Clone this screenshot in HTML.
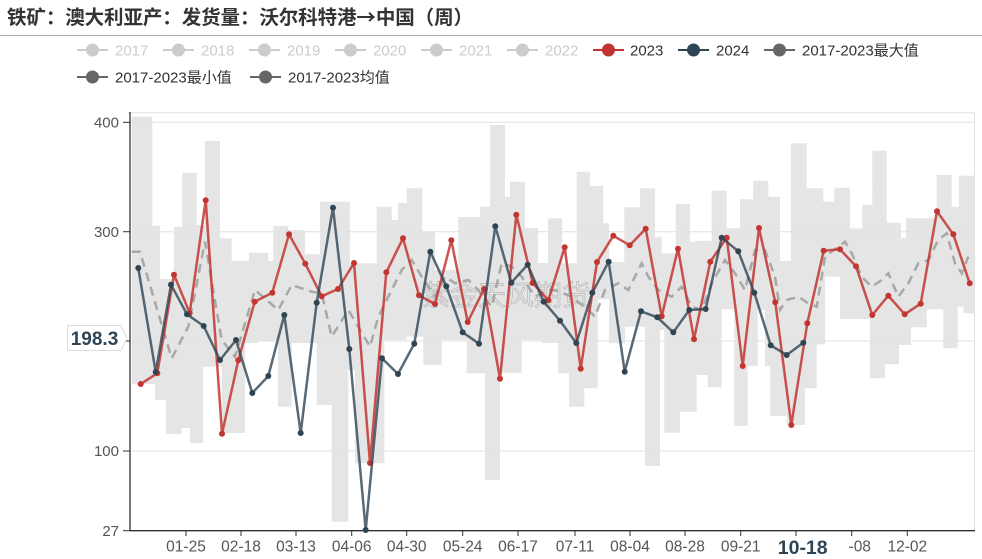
<!DOCTYPE html>
<html><head><meta charset="utf-8"><style>
html,body{margin:0;padding:0;background:#fff;}
svg{display:block;font-family:"Liberation Sans","Noto Sans CJK SC",sans-serif;}
</style></head><body>
<svg width="982" height="559" viewBox="0 0 982 559" xmlns="http://www.w3.org/2000/svg">
<rect width="982" height="559" fill="#fff"/>
<text x="7" y="24" font-size="19.5" font-weight="bold" fill="#333" textLength="466" lengthAdjust="spacing">铁矿：澳大利亚产：发货量：沃尔科特港<tspan font-family="Noto Sans CJK SC, sans-serif">→</tspan>中国（周）</text>
<line x1="0" y1="35.5" x2="982" y2="35.5" stroke="#aaa" stroke-width="1"/>

<!-- legend -->
<g font-size="15" stroke-width="2">
<line x1="77" y1="50" x2="108" y2="50" stroke="#ccc"/><circle cx="92.5" cy="50" r="6.5" fill="#ccc"/><text x="115" y="55.5" fill="#ccc" stroke="none">2017</text>
<line x1="163" y1="50" x2="194" y2="50" stroke="#ccc"/><circle cx="178.5" cy="50" r="6.5" fill="#ccc"/><text x="201" y="55.5" fill="#ccc" stroke="none">2018</text>
<line x1="249" y1="50" x2="280" y2="50" stroke="#ccc"/><circle cx="264.5" cy="50" r="6.5" fill="#ccc"/><text x="287" y="55.5" fill="#ccc" stroke="none">2019</text>
<line x1="335" y1="50" x2="366" y2="50" stroke="#ccc"/><circle cx="350.5" cy="50" r="6.5" fill="#ccc"/><text x="373" y="55.5" fill="#ccc" stroke="none">2020</text>
<line x1="421" y1="50" x2="452" y2="50" stroke="#ccc"/><circle cx="436.5" cy="50" r="6.5" fill="#ccc"/><text x="459" y="55.5" fill="#ccc" stroke="none">2021</text>
<line x1="507" y1="50" x2="538" y2="50" stroke="#ccc"/><circle cx="522.5" cy="50" r="6.5" fill="#ccc"/><text x="545" y="55.5" fill="#ccc" stroke="none">2022</text>
<line x1="593" y1="50" x2="624" y2="50" stroke="#c23531"/><circle cx="608.5" cy="50" r="6.5" fill="#c23531"/><text x="630" y="55.5" fill="#333" stroke="none">2023</text>
<line x1="678" y1="50" x2="709" y2="50" stroke="#2f4554"/><circle cx="693.5" cy="50" r="6.5" fill="#2f4554"/><text x="716" y="55.5" fill="#333" stroke="none">2024</text>
<line x1="764" y1="50" x2="795" y2="50" stroke="#666"/><circle cx="779.5" cy="50" r="6.5" fill="#666"/><text x="802" y="55.5" fill="#333" stroke="none">2017-2023最大值</text>
<line x1="77" y1="77" x2="108" y2="77" stroke="#666"/><circle cx="92.5" cy="77" r="6.5" fill="#666"/><text x="115" y="82.5" fill="#333" stroke="none">2017-2023最小值</text>
<line x1="250" y1="77" x2="281" y2="77" stroke="#666"/><circle cx="265.5" cy="77" r="6.5" fill="#666"/><text x="288" y="82.5" fill="#333" stroke="none">2017-2023均值</text>
</g>

<!-- grid -->
<g stroke="#e0e0e0" stroke-width="1">
<line x1="128" y1="112.7" x2="974.5" y2="112.7"/>
<line x1="130" y1="122.3" x2="974.5" y2="122.3"/>
<line x1="130" y1="231.7" x2="974.5" y2="231.7"/>
<line x1="130" y1="341" x2="974.5" y2="341"/>
<line x1="130" y1="451" x2="974.5" y2="451"/>
<line x1="974.5" y1="112.7" x2="974.5" y2="531"/>
</g>

<!-- band -->
<path fill="#e3e3e3" fill-opacity="0.92" d="M131.7,116.7 H152.3 V225.7 H160 V279 H174 V226.7 H182.3 V172.7 H196.7 V225 H205 V141 H220 V238.3 H231.7 V261 H249 V252.7 H268.3 V261 H273.3 V226 H288.3 V230 H305 V254.3 H320 V201.7 H350 V263.3 H376.7 V206.7 H391.7 V220 H398 V203 H406.7 V188.3 H422.3 V231.7 H435 V270 H458.3 V217 H480 V206.7 H490 V125 H505 V196.7 H510 V181.7 H525 V228 H538 V263 H548 V218.3 H562.3 V263.3 H576.7 V171.7 H590 V186 H603.3 V223.3 H609 V262 H624.3 V207.3 H640 V188.3 H655 V236.7 H661.7 V253.3 H675.7 V204 H690 V241.7 H696.7 V240.7 H711.7 V190.7 H726.7 V228.3 H740 V199.3 H753.3 V180.7 H768.3 V196.7 H780 V261 H791 V143.3 H806.7 V188.3 H823.3 V201.7 H834.3 V187.7 H850 V228.3 H862.3 V205 H872.3 V150.7 H886.7 V222.7 H901 V238.3 H906 V218.3 H936.7 V175 H951.7 V206.7 H959 V175.7 H974.3 V313.3 H963.3 V306.7 H957.7 V348.3 H943.3 V309.3 H926.7 V327.3 H911 V345 H899 V364.3 H885 V378.3 H870 V319 H840 V276.7 H825 V344.3 H816.7 V388.3 H805 V425 H786.7 V416 H770 V366 H765 V310 H757.7 V366 H747.7 V426 H734.3 V309.3 H721.7 V387.3 H707.7 V375 H696.7 V411.7 H680 V432.7 H664.3 V330 H660 V466 H645 V326.7 H625 V343.3 H609 V299.3 H597.7 V388.3 H584.3 V406.7 H569 V373.3 H558.3 V343 H541.7 V340 H521.7 V373 H500 V480 H485 V373.3 H466.7 V340 H441.7 V365 H423.3 V336.7 H406.7 V340 H384.3 V463.3 H355 V370 H348.3 V521.7 H331.7 V405 H316.7 V343 H291.7 V406.7 H278 V341 H258 V343 H245 V433 H221.7 V366.7 H203 V443 H190 V428 H181.7 V434 H166 V400 H155 V384 H131.7 Z"/>

<!-- watermark -->
<text x="422" y="305" font-size="28" fill="none" stroke="#999" stroke-width="0.7" stroke-opacity="0.6" font-family="Noto Sans CJK SC, sans-serif">紫金天风期货</text>

<!-- mean dashed -->
<polyline fill="none" stroke="#a8a8a8" stroke-width="2.5" stroke-dasharray="9,6" points="131.7,251.7 140,251.7 171.7,358.3 188.3,326.7 205,241.7 221.7,340 235,356.7 255,290 278.3,310 291.7,285 311.7,291.7 321.7,293.3 331.7,336.7 348.3,310 370,346.7 378.3,316.7 388.3,296.7 401.7,270 411.7,260 421.7,276.7 435,296.7 445,276.7 455,283.3 468.3,280 478.3,290 491.7,306.7 501.7,263.3 511.7,266.7 521.7,276.7 535,296.7 548.3,290 555,290 571.7,296.7 588.3,310 595,316.7 605,290 618.3,283.3 628.3,290 641.7,263.3 648.3,276.7 658.3,290 671.7,296.7 681.7,286.7 691.7,306.7 701.7,310 711.7,283.3 725,260 735,273.3 745,290 755,250 765,250 775,276.7 780,310 786.7,300 798.3,296.7 808.3,303.3 816.7,306.7 825,256.7 838.3,246.7 845,241.7 851.7,253.3 861.7,276.7 871.7,286.7 881.7,280 888.3,273.3 898.3,296.7 908.3,283.3 918.3,263.3 928.3,260 938.3,240 946.7,233.3 955,263.3 961.7,273.3 968.3,256.7"/>

<!-- axes -->
<line x1="130" y1="112" x2="130" y2="531" stroke="#333" stroke-width="1.3"/>
<line x1="130" y1="530.7" x2="975" y2="530.7" stroke="#333" stroke-width="1.3"/>
<g stroke="#333" stroke-width="1">
<line x1="123" y1="122.3" x2="130" y2="122.3"/>
<line x1="123" y1="231.7" x2="130" y2="231.7"/>
<line x1="123" y1="341" x2="130" y2="341"/>
<line x1="123" y1="451" x2="130" y2="451"/>
<line x1="123" y1="530.7" x2="130" y2="530.7"/>
<line x1="186" y1="531" x2="186" y2="536"/>
<line x1="241" y1="531" x2="241" y2="536"/>
<line x1="296" y1="531" x2="296" y2="536"/>
<line x1="351.7" y1="531" x2="351.7" y2="536"/>
<line x1="406.7" y1="531" x2="406.7" y2="536"/>
<line x1="462.7" y1="531" x2="462.7" y2="536"/>
<line x1="518" y1="531" x2="518" y2="536"/>
<line x1="575" y1="531" x2="575" y2="536"/>
<line x1="630" y1="531" x2="630" y2="536"/>
<line x1="685" y1="531" x2="685" y2="536"/>
<line x1="740.7" y1="531" x2="740.7" y2="536"/>
<line x1="796" y1="531" x2="796" y2="536"/>
<line x1="851.7" y1="531" x2="851.7" y2="536"/>
<line x1="907.3" y1="531" x2="907.3" y2="536"/>
</g>
<g font-size="15" fill="#555" text-anchor="end">
<text x="119" y="127.5">400</text>
<text x="119" y="237">300</text>
<text x="119" y="456">100</text>
<text x="119" y="536">27</text>
</g>
<g font-size="15.5" fill="#555" text-anchor="middle">
<text x="186" y="551.5">01-25</text>
<text x="241" y="551.5">02-18</text>
<text x="296" y="551.5">03-13</text>
<text x="351.7" y="551.5">04-06</text>
<text x="406.7" y="551.5">04-30</text>
<text x="462.7" y="551.5">05-24</text>
<text x="518" y="551.5">06-17</text>
<text x="575" y="551.5">07-11</text>
<text x="630" y="551.5">08-04</text>
<text x="685" y="551.5">08-28</text>
<text x="740.7" y="551.5">09-21</text>
<text x="851.7" y="551.5">11-08</text>
<text x="907.3" y="551.5">12-02</text>
</g>
<rect x="772" y="537" width="76" height="22" fill="#fff"/>
<text x="802.7" y="554" font-size="19.5" font-weight="bold" fill="#2f4554" text-anchor="middle">10-18</text>

<!-- 2023 -->
<g>
<polyline fill="none" stroke="#c23531" stroke-opacity="0.85" stroke-width="2.5" stroke-linejoin="round" points="140.7,384 157.3,373.3 174,274.7 189.7,313 205.7,200.3 222,433.7 238.3,360.3 254.7,301.7 272.3,292.7 289,234.3 305.3,263.7 321.7,296.3 338,289 354,263 370,463 386.3,272.3 403,238.3 419,295.3 435,304 451.3,240.3 467.7,322 484,289 500,378.7 516.3,214.7 532.7,283 548.3,300.3 564.7,247.3 580.7,368.7 597,262 613.3,235.7 629.7,245.3 645.7,228.7 661.7,316.3 678,248.7 694,339.3 710.3,261.7 726.7,237.7 742.7,366 759,228 775.3,302.3 791.3,425 807.3,323.3 823.7,250.7 840,249.3 856,266.3 872.3,315 888.3,295.7 904.7,314.3 920.7,303.7 937,211.3 953.3,234.3 969.7,283.3"/>
<g fill="#c23531">
<circle cx="140.7" cy="384" r="3"/><circle cx="157.3" cy="373.3" r="3"/><circle cx="174" cy="274.7" r="3"/><circle cx="189.7" cy="313" r="3"/><circle cx="205.7" cy="200.3" r="3"/><circle cx="222" cy="433.7" r="3"/><circle cx="238.3" cy="360.3" r="3"/><circle cx="254.7" cy="301.7" r="3"/><circle cx="272.3" cy="292.7" r="3"/><circle cx="289" cy="234.3" r="3"/><circle cx="305.3" cy="263.7" r="3"/><circle cx="321.7" cy="296.3" r="3"/><circle cx="338" cy="289" r="3"/><circle cx="354" cy="263" r="3"/><circle cx="370" cy="463" r="3"/><circle cx="386.3" cy="272.3" r="3"/><circle cx="403" cy="238.3" r="3"/><circle cx="419" cy="295.3" r="3"/><circle cx="435" cy="304" r="3"/><circle cx="451.3" cy="240.3" r="3"/><circle cx="467.7" cy="322" r="3"/><circle cx="484" cy="289" r="3"/><circle cx="500" cy="378.7" r="3"/><circle cx="516.3" cy="214.7" r="3"/><circle cx="532.7" cy="283" r="3"/><circle cx="548.3" cy="300.3" r="3"/><circle cx="564.7" cy="247.3" r="3"/><circle cx="580.7" cy="368.7" r="3"/><circle cx="597" cy="262" r="3"/><circle cx="613.3" cy="235.7" r="3"/><circle cx="629.7" cy="245.3" r="3"/><circle cx="645.7" cy="228.7" r="3"/><circle cx="661.7" cy="316.3" r="3"/><circle cx="678" cy="248.7" r="3"/><circle cx="694" cy="339.3" r="3"/><circle cx="710.3" cy="261.7" r="3"/><circle cx="726.7" cy="237.7" r="3"/><circle cx="742.7" cy="366" r="3"/><circle cx="759" cy="228" r="3"/><circle cx="775.3" cy="302.3" r="3"/><circle cx="791.3" cy="425" r="3"/><circle cx="807.3" cy="323.3" r="3"/><circle cx="823.7" cy="250.7" r="3"/><circle cx="840" cy="249.3" r="3"/><circle cx="856" cy="266.3" r="3"/><circle cx="872.3" cy="315" r="3"/><circle cx="888.3" cy="295.7" r="3"/><circle cx="904.7" cy="314.3" r="3"/><circle cx="920.7" cy="303.7" r="3"/><circle cx="937" cy="211.3" r="3"/><circle cx="953.3" cy="234.3" r="3"/><circle cx="969.7" cy="283.3" r="3"/>
</g>
</g>

<!-- 2024 -->
<g>
<polyline fill="none" stroke="#2f4554" stroke-opacity="0.8" stroke-width="2.5" stroke-linejoin="round" points="138.3,268 155.7,372 171,284.7 187,314.3 203.7,326 220,360 236,340 252.3,393 268.3,376 284.3,315 300.7,433 316.7,302.7 333,207.7 349.3,349 365.7,530 382,358.3 398,374 414.3,343.7 430.3,251.7 446.3,286.3 462.7,332.3 479,343.7 495.3,226.3 511.3,282.7 527.7,264.7 543.7,301.7 560,320.7 576.3,343 592.3,292.7 608.7,261.7 624.7,371.7 641,311.3 657.3,317.3 673.3,332.3 689.3,310 705.7,309 721.7,237.7 738.3,251.3 754.3,292.7 770.7,345.3 786.7,355 803.3,342.7"/>
<g fill="#2f4554">
<circle cx="138.3" cy="268" r="3"/><circle cx="155.7" cy="372" r="3"/><circle cx="171" cy="284.7" r="3"/><circle cx="187" cy="314.3" r="3"/><circle cx="203.7" cy="326" r="3"/><circle cx="220" cy="360" r="3"/><circle cx="236" cy="340" r="3"/><circle cx="252.3" cy="393" r="3"/><circle cx="268.3" cy="376" r="3"/><circle cx="284.3" cy="315" r="3"/><circle cx="300.7" cy="433" r="3"/><circle cx="316.7" cy="302.7" r="3"/><circle cx="333" cy="207.7" r="3"/><circle cx="349.3" cy="349" r="3"/><circle cx="365.7" cy="530" r="3"/><circle cx="382" cy="358.3" r="3"/><circle cx="398" cy="374" r="3"/><circle cx="414.3" cy="343.7" r="3"/><circle cx="430.3" cy="251.7" r="3"/><circle cx="446.3" cy="286.3" r="3"/><circle cx="462.7" cy="332.3" r="3"/><circle cx="479" cy="343.7" r="3"/><circle cx="495.3" cy="226.3" r="3"/><circle cx="511.3" cy="282.7" r="3"/><circle cx="527.7" cy="264.7" r="3"/><circle cx="543.7" cy="301.7" r="3"/><circle cx="560" cy="320.7" r="3"/><circle cx="576.3" cy="343" r="3"/><circle cx="592.3" cy="292.7" r="3"/><circle cx="608.7" cy="261.7" r="3"/><circle cx="624.7" cy="371.7" r="3"/><circle cx="641" cy="311.3" r="3"/><circle cx="657.3" cy="317.3" r="3"/><circle cx="673.3" cy="332.3" r="3"/><circle cx="689.3" cy="310" r="3"/><circle cx="705.7" cy="309" r="3"/><circle cx="721.7" cy="237.7" r="3"/><circle cx="738.3" cy="251.3" r="3"/><circle cx="754.3" cy="292.7" r="3"/><circle cx="770.7" cy="345.3" r="3"/><circle cx="786.7" cy="355" r="3"/><circle cx="803.3" cy="342.7" r="3"/>
</g>
</g>

<!-- y pointer label -->
<path d="M67.5,325.5 H121 L127,338 L121,350.5 H67.5 Z" fill="#fff" stroke="#ddd" stroke-width="1"/>
<text x="94.5" y="345" font-size="19" font-weight="bold" fill="#2f4554" text-anchor="middle">198.3</text>
</svg>
</body></html>
